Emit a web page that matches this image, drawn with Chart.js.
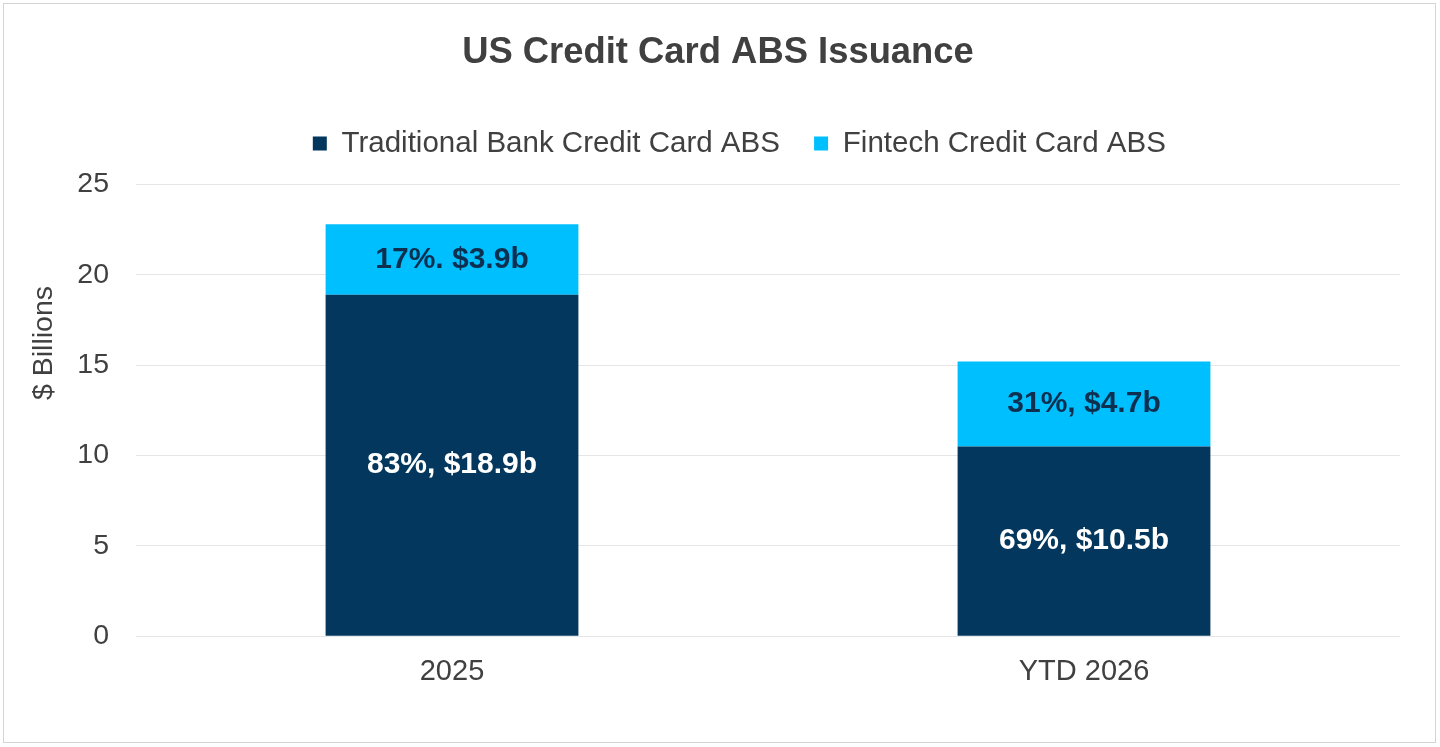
<!DOCTYPE html>
<html>
<head>
<meta charset="utf-8">
<title>US Credit Card ABS Issuance</title>
<script src="https://cdn.jsdelivr.net/npm/chart.js@4/dist/chart.umd.min.js"></script>
<style>
  html, body { margin: 0; padding: 0; background: #ffffff; }
  #wrap { position: relative; width: 1440px; height: 747px; }
  #chart { position: absolute; left: 0; top: 0; }
  #frame {
    position: absolute; left: 3px; top: 3px; width: 1433px; height: 740px;
    box-sizing: border-box; border: 1.5px solid #d4d4d4; pointer-events: none;
  }
</style>
</head>
<body>
<div id="wrap">
  <canvas id="chart" width="1440" height="747"></canvas>
  <div id="frame"></div>
</div>
<script>
'use strict'

// Chart data
const categories = ['2025', 'YTD 2026'];
const traditionalValues = [18.9, 10.5];
const fintechValues = [3.9, 4.7];
const traditionalLabels = ['83%, $18.9b', '69%, $10.5b'];
const fintechLabels = ['17%. $3.9b', '31%, $4.7b'];
const seriesNames = ['Traditional Bank Credit Card ABS', 'Fintech Credit Card ABS'];
const yAxisTitle = '$ Billions';
const yStep = 5;

const navy = '#03375d';
const cyan = '#00bfff';
const textGrey = '#404040';
const fontFamily = '"Liberation Sans", Arial, sans-serif';

// writes the share / amount text in the middle of each bar piece
const barTextPlugin = {
    id: 'barText',
    afterDatasetsDraw(chart) {
        const ctx = chart.ctx;
        chart.data.datasets.forEach(function (ds, i) {
            const meta = chart.getDatasetMeta(i);
            meta.data.forEach(function (bar, j) {
                ctx.save();
                ctx.font = 'bold 30px ' + fontFamily;
                ctx.fillStyle = ds.textColor;
                ctx.textAlign = 'center';
                ctx.textBaseline = 'middle';
                ctx.fillText(ds.barText[j], bar.x, (bar.y + bar.base) / 2);
                ctx.restore();
            });
        });
    }
};

// the y axis title sits higher than the axis middle in the original,
// so it is written here instead of by the scale
const yTitlePlugin = {
    id: 'yTitle',
    afterDraw(chart) {
        const ctx = chart.ctx;
        ctx.save();
        ctx.translate(44, 343);
        ctx.rotate(-Math.PI / 2);
        ctx.font = '28.5px ' + fontFamily;
        ctx.fillStyle = textGrey;
        ctx.textAlign = 'center';
        ctx.textBaseline = 'middle';
        ctx.fillText(yAxisTitle, 0, 0);
        ctx.restore();
    }
};

const data = {
    labels: categories,
    datasets: [
        {
            label: seriesNames[0],
            data: traditionalValues,
            backgroundColor: navy,
            barText: traditionalLabels,
            textColor: '#ffffff'
        },
        {
            label: seriesNames[1],
            data: fintechValues,
            backgroundColor: cyan,
            barText: fintechLabels,
            textColor: '#0d3050'
        }
    ]
};

const config = {
    type: 'bar',
    data: data,
    plugins: [barTextPlugin, yTitlePlugin],
    options: {
        responsive: false,
        animation: false,
        devicePixelRatio: 1,
        barPercentage: 0.4,
        categoryPercentage: 1.0,
        layout: {
            padding: { left: 36, right: 40, top: 0, bottom: 48 }
        },
        plugins: {
            title: {
                display: true,
                text: 'US Credit Card ABS Issuance',
                color: textGrey,
                font: { family: fontFamily, size: 36.4, weight: 'bold' },
                padding: { top: 31, bottom: 28 }
            },
            legend: {
                display: true,
                position: 'top',
                fullSize: false,
                labels: {
                    color: textGrey,
                    font: { family: fontFamily, size: 29.5 },
                    boxWidth: 14,
                    boxHeight: 14,
                    padding: 26,
                    // small spacing tweak so the items sit like the original
                    generateLabels(chart) {
                        const items = Chart.defaults.plugins.legend.labels.generateLabels(chart);
                        items.forEach(function (item) {
                            item.lineWidth = 0;
                            item.text = item.datasetIndex === 0 ? item.text + ' ' : item.text + '       ';
                        });
                        return items;
                    }
                }
            },
            tooltip: { enabled: false }
        },
        scales: {
            x: {
                stacked: true,
                grid: { display: false },
                border: { display: false },
                ticks: {
                    color: textGrey,
                    font: { family: fontFamily, size: 29 },
                    padding: 10
                }
            },
            y: {
                stacked: true,
                min: 0,
                max: 25.9,   // a little headroom above the 25 line, like the original
                grid: { color: '#e6e6e6', lineWidth: 1, drawTicks: false },
                border: { display: false },
                ticks: {
                    stepSize: yStep,
                    includeBounds: false,
                    color: textGrey,
                    font: { family: fontFamily, size: 28.5 },
                    padding: 27
                },
                title: { display: false },
                afterFit(scale) {
                    scale.width = 100;
                }
            }
        }
    }
};

const myChart = new Chart(document.getElementById('chart'), config);
</script>
</body>
</html>
